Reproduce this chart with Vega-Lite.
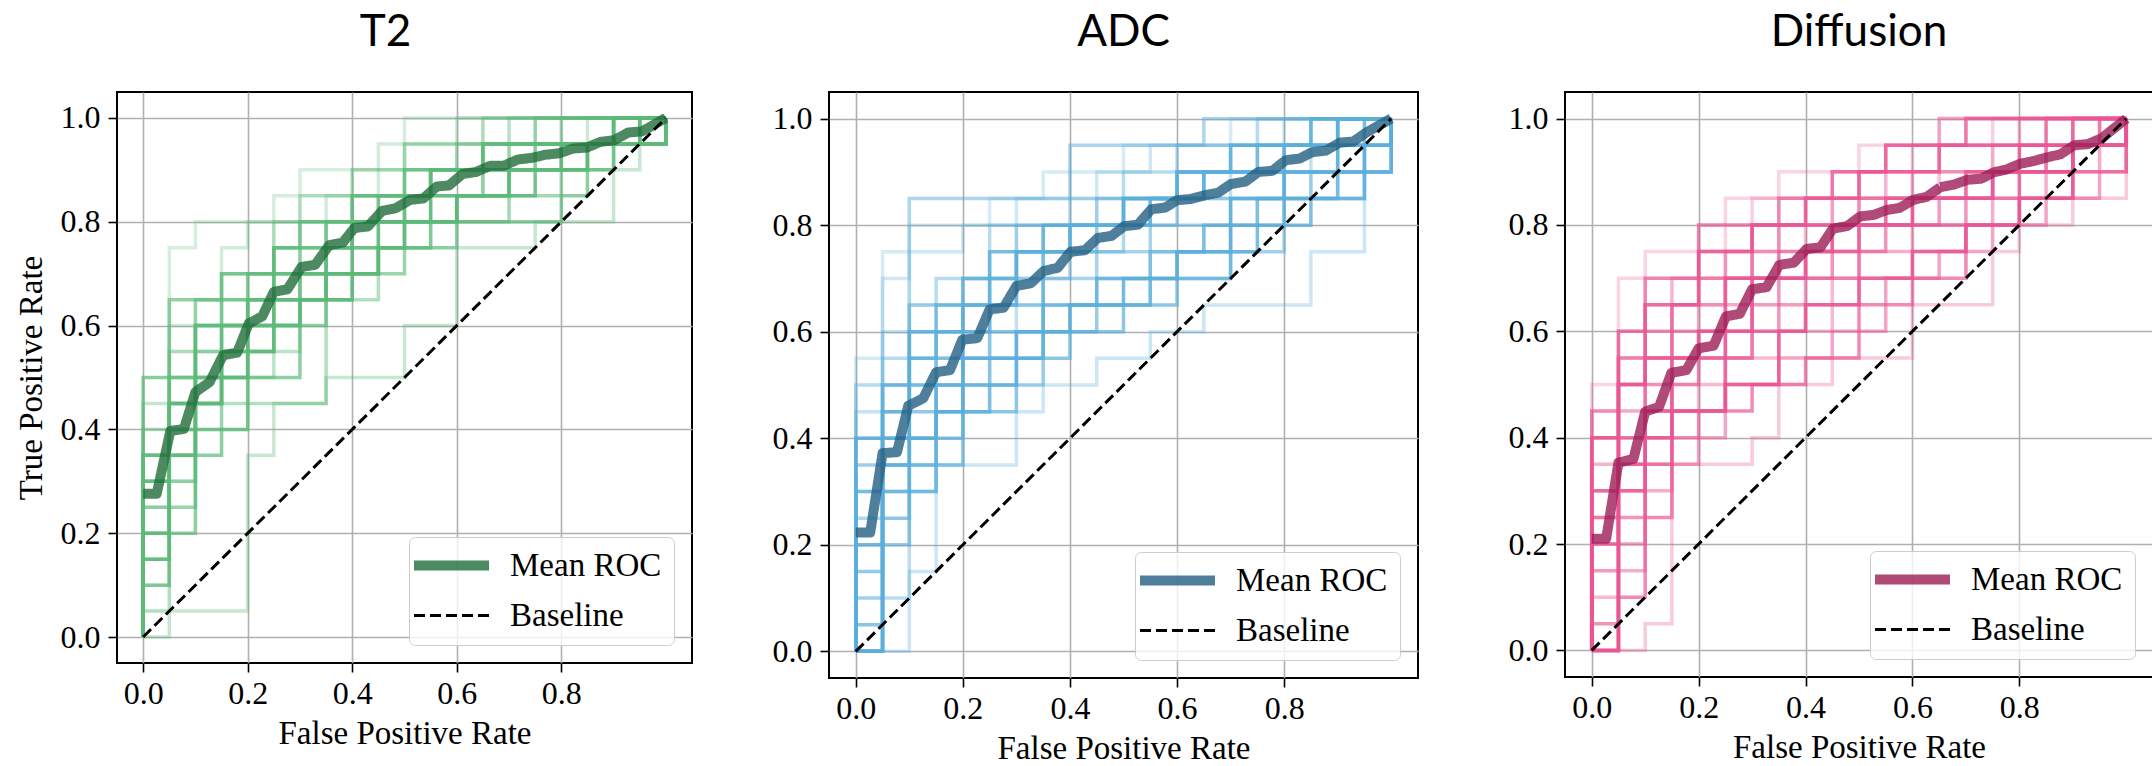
{
  "$schema": "https://vega.github.io/schema/vega-lite/v6.json",
  "background": "white",
  "padding": {"left": 14, "top": 10, "right": 0, "bottom": 0},
  "spacing": 75,
  "datasets": {
    "curves": [
      {"p": "T2", "c": 1, "x": [0,0,0.05,0.1,0.25,0.3,0.5,1], "y": [0,0.35,0.75,0.8,0.85,0.9,1,1]},
      {"p": "T2", "c": 2, "x": [0,0,0.05,0.1,0.15,0.2,0.35,0.45,0.6,1], "y": [0,0.25,0.6,0.65,0.75,0.8,0.85,0.95,1,1]},
      {"p": "T2", "c": 3, "x": [0,0,0.05,0.1,0.15,0.25,0.4,0.55,0.7,0.85,1], "y": [0,0.1,0.5,0.55,0.65,0.75,0.85,0.9,0.95,1,1]},
      {"p": "T2", "c": 4, "x": [0,0.05,0.2,0.25,0.35,0.5,0.6,0.75,0.9,0.95,1], "y": [0,0.05,0.35,0.45,0.5,0.6,0.75,0.8,0.9,1,1]},
      {"p": "T2", "c": 5, "x": [0,0,0.05,0.1,0.2,0.3,0.45,0.55,0.75,0.95,1], "y": [0,0.45,0.5,0.6,0.7,0.8,0.85,0.9,0.95,1,1]},
      {"p": "T2", "c": 6, "x": [0,0,0.1,0.15,0.25,0.3,0.35,0.45,0.6,0.65,0.8,1], "y": [0,0.3,0.45,0.5,0.55,0.65,0.7,0.8,0.85,0.9,0.95,1]},
      {"p": "T2", "c": 7, "x": [0,0,0.05,0.1,0.2,0.25,0.3,0.4,0.5,0.55,0.7,1], "y": [0,0.2,0.35,0.4,0.55,0.6,0.7,0.75,0.85,0.9,1,1]},
      {"p": "T2", "c": 8, "x": [0,0,0.05,0.1,0.35,0.45,0.55,0.65,0.8,0.9,1], "y": [0,0.05,0.3,0.45,0.65,0.75,0.85,0.9,0.95,1,1]},
      {"p": "T2", "c": 9, "x": [0,0,0.05,0.1,0.15,0.25,0.3,0.4,0.5,0.65,1], "y": [0,0.4,0.55,0.65,0.7,0.8,0.85,0.9,0.95,1,1]},
      {"p": "T2", "c": 10, "x": [0,0,0.05,0.1,0.15,0.2,0.3,0.35,0.5,0.6,0.8,1], "y": [0,0.2,0.4,0.5,0.6,0.65,0.75,0.8,0.9,0.95,1,1]},
      {"p": "T2", "c": 11, "x": [0,0,0.05,0.1,0.2,0.3,0.45,0.55,0.7,0.8,0.9,1], "y": [0,0.3,0.45,0.55,0.6,0.7,0.75,0.8,0.85,0.9,0.95,1]},
      {"p": "T2", "c": 12, "x": [0,0,0.05,0.1,0.15,0.2,0.35,0.4,0.55,0.75,0.9,1], "y": [0,0.25,0.35,0.5,0.55,0.7,0.75,0.85,0.9,0.95,1,1]},
      {"p": "T2", "c": 13, "x": [0,0,0.05,0.1,0.15,0.25,0.3,0.4,0.5,0.6,0.7,0.85,0.95,1], "y": [0,0.15,0.25,0.4,0.55,0.6,0.65,0.7,0.8,0.85,0.9,0.95,1,1]},
      {"p": "T2", "c": 14, "x": [0,0,0.05,0.15,0.25,0.35,0.5,0.55,0.65,0.75,1], "y": [0,0.35,0.65,0.7,0.75,0.8,0.85,0.9,0.95,1,1]},
      {"p": "T2", "c": 15, "x": [0,0,0.05,0.1,0.15,0.2,0.3,0.35,0.45,0.6,0.8,0.85,0.9,1], "y": [0,0.1,0.2,0.35,0.4,0.5,0.6,0.7,0.75,0.8,0.85,0.9,0.95,1]},
      {"p": "T2", "c": 16, "x": [0,0,0.1,0.15,0.25,0.35,0.4,0.5,0.65,0.9,1], "y": [0,0.5,0.6,0.65,0.7,0.75,0.85,0.9,0.95,1,1]},
      {"p": "T2", "c": 17, "x": [0,0,0.05,0.1,0.2,0.25,0.3,0.45,0.55,0.65,0.95,1], "y": [0,0.3,0.4,0.6,0.65,0.75,0.8,0.85,0.9,0.95,1,1]},
      {"p": "T2", "c": 18, "x": [0,0,0.05,0.1,0.15,0.25,0.35,0.4,0.6,0.7,0.85,1], "y": [0,0.2,0.45,0.5,0.6,0.65,0.75,0.8,0.85,0.9,0.95,1]},
      {"p": "T2", "c": 19, "x": [0,0,0.05,0.15,0.2,0.3,0.4,0.5,0.6,0.7,0.8,0.9,1], "y": [0,0.35,0.45,0.5,0.6,0.65,0.75,0.8,0.85,0.9,0.95,1,1]},
      {"p": "T2", "c": 20, "x": [0,0,0.05,0.1,0.15,0.2,0.25,0.35,0.45,0.55,0.75,0.85,1], "y": [0,0.15,0.35,0.45,0.5,0.55,0.65,0.7,0.8,0.85,0.9,0.95,1]},
      {"p": "ADC", "c": 1, "x": [0,0,0.05,0.1,0.25,0.35,0.5,0.7,1], "y": [0,0.55,0.75,0.8,0.85,0.9,0.95,1,1]},
      {"p": "ADC", "c": 2, "x": [0,0,0.05,0.1,0.2,0.3,0.45,0.55,0.8,1], "y": [0,0.3,0.7,0.75,0.8,0.85,0.9,0.95,1,1]},
      {"p": "ADC", "c": 3, "x": [0,0.1,0.15,0.3,0.35,0.45,0.55,0.65,0.85,0.95,1], "y": [0,0.15,0.35,0.45,0.5,0.55,0.6,0.65,0.75,0.9,1]},
      {"p": "ADC", "c": 4, "x": [0,0,0.05,0.1,0.2,0.35,0.55,0.65,0.75,0.95,1], "y": [0,0.45,0.6,0.65,0.7,0.8,0.85,0.9,0.95,1,1]},
      {"p": "ADC", "c": 5, "x": [0,0,0.05,0.1,0.15,0.25,0.3,0.4,0.55,0.7,0.85,1], "y": [0,0.2,0.35,0.5,0.55,0.6,0.75,0.8,0.85,0.9,0.95,1]},
      {"p": "ADC", "c": 6, "x": [0,0.05,0.1,0.2,0.25,0.35,0.45,0.55,0.65,0.75,0.9,1], "y": [0,0.1,0.4,0.45,0.55,0.65,0.7,0.75,0.8,0.85,0.9,1]},
      {"p": "ADC", "c": 7, "x": [0,0,0.05,0.1,0.15,0.25,0.4,0.5,0.6,0.75,1], "y": [0,0.5,0.55,0.65,0.7,0.8,0.85,0.9,0.95,1,1]},
      {"p": "ADC", "c": 8, "x": [0,0,0.05,0.1,0.2,0.3,0.4,0.5,0.6,0.8,0.9,1], "y": [0,0.25,0.45,0.6,0.65,0.7,0.75,0.8,0.85,0.9,0.95,1]},
      {"p": "ADC", "c": 9, "x": [0,0,0.1,0.4,0.65,1], "y": [0,0.4,0.85,0.95,1,1]},
      {"p": "ADC", "c": 10, "x": [0,0.05,0.15,0.2,0.25,0.35,0.45,0.55,0.7,0.8,0.95,1], "y": [0,0.3,0.4,0.5,0.6,0.7,0.75,0.8,0.85,0.9,0.95,1]},
      {"p": "ADC", "c": 11, "x": [0,0,0.05,0.15,0.2,0.3,0.4,0.55,0.7,0.8,0.95,1], "y": [0,0.1,0.35,0.45,0.55,0.6,0.65,0.7,0.75,0.85,0.9,1]},
      {"p": "ADC", "c": 12, "x": [0,0,0.05,0.1,0.15,0.25,0.3,0.45,0.6,0.7,0.85,1], "y": [0,0.35,0.5,0.55,0.6,0.7,0.8,0.85,0.9,0.95,1,1]},
      {"p": "ADC", "c": 13, "x": [0,0.05,0.1,0.15,0.25,0.35,0.45,0.55,0.65,0.75,0.85,0.95,1], "y": [0,0.2,0.3,0.45,0.5,0.6,0.65,0.75,0.8,0.85,0.9,0.95,1]},
      {"p": "ADC", "c": 14, "x": [0,0,0.05,0.1,0.15,0.2,0.3,0.45,0.5,0.65,0.8,0.9,1], "y": [0,0.15,0.4,0.45,0.55,0.65,0.75,0.8,0.85,0.9,0.95,1,1]},
      {"p": "ADC", "c": 15, "x": [0,0.05,0.1,0.2,0.3,0.4,0.5,0.6,0.7,0.8,0.9,0.95,1], "y": [0,0.25,0.35,0.45,0.55,0.6,0.65,0.7,0.8,0.85,0.9,1,1]},
      {"p": "ADC", "c": 16, "x": [0,0,0.05,0.1,0.2,0.25,0.35,0.4,0.5,0.6,0.75,0.9,1], "y": [0,0.05,0.3,0.5,0.6,0.65,0.75,0.8,0.85,0.9,0.95,1,1]},
      {"p": "ADC", "c": 17, "x": [0,0,0.05,0.1,0.2,0.3,0.4,0.55,0.65,0.8,0.9,1], "y": [0,0.3,0.5,0.6,0.7,0.75,0.8,0.85,0.9,0.95,1,1]},
      {"p": "ADC", "c": 18, "x": [0,0,0.05,0.15,0.2,0.3,0.35,0.45,0.6,0.75,0.85,0.95,1], "y": [0,0.2,0.4,0.45,0.5,0.55,0.65,0.7,0.75,0.8,0.85,0.9,1]},
      {"p": "ADC", "c": 19, "x": [0,0,0.05,0.1,0.15,0.25,0.35,0.5,0.6,0.7,0.85,1], "y": [0,0.4,0.45,0.55,0.65,0.75,0.8,0.85,0.9,0.95,1,1]},
      {"p": "ADC", "c": 20, "x": [0,0.05,0.1,0.15,0.2,0.3,0.4,0.5,0.6,0.7,0.8,0.9,1], "y": [0,0.35,0.4,0.5,0.55,0.6,0.65,0.7,0.75,0.85,0.9,0.95,1]},
      {"p": "Diffusion", "c": 1, "x": [0,0,0.05,0.1,0.25,0.35,0.5,0.7,1], "y": [0,0.5,0.7,0.75,0.85,0.9,0.95,1,1]},
      {"p": "Diffusion", "c": 2, "x": [0,0,0.05,0.1,0.2,0.3,0.45,0.6,0.75,1], "y": [0,0.45,0.6,0.65,0.75,0.85,0.9,0.95,1,1]},
      {"p": "Diffusion", "c": 3, "x": [0,0.1,0.15,0.3,0.35,0.45,0.6,0.75,0.8,0.9,1], "y": [0,0.05,0.35,0.4,0.5,0.55,0.65,0.75,0.8,0.85,1]},
      {"p": "Diffusion", "c": 4, "x": [0,0,0.05,0.1,0.15,0.25,0.35,0.5,0.65,0.8,0.95,1], "y": [0,0.25,0.5,0.6,0.65,0.75,0.8,0.85,0.9,0.95,1,1]},
      {"p": "Diffusion", "c": 5, "x": [0,0,0.05,0.1,0.15,0.2,0.3,0.4,0.55,0.7,0.85,1], "y": [0,0.2,0.3,0.45,0.5,0.6,0.7,0.8,0.85,0.9,0.95,1]},
      {"p": "Diffusion", "c": 6, "x": [0,0,0.05,0.1,0.2,0.25,0.35,0.45,0.6,0.7,0.8,0.9,1], "y": [0,0.1,0.4,0.45,0.5,0.55,0.6,0.7,0.75,0.8,0.9,0.95,1]},
      {"p": "Diffusion", "c": 7, "x": [0,0,0.05,0.1,0.15,0.25,0.3,0.4,0.55,0.65,0.8,1], "y": [0,0.35,0.55,0.6,0.7,0.75,0.8,0.85,0.9,0.95,1,1]},
      {"p": "Diffusion", "c": 8, "x": [0,0.05,0.1,0.15,0.25,0.3,0.4,0.5,0.6,0.75,0.85,0.95,1], "y": [0,0.15,0.3,0.45,0.55,0.6,0.65,0.75,0.8,0.85,0.9,0.95,1]},
      {"p": "Diffusion", "c": 9, "x": [0,0,0.05,0.1,0.2,0.3,0.35,0.5,0.6,0.75,0.9,1], "y": [0,0.3,0.45,0.55,0.65,0.75,0.8,0.85,0.9,0.95,1,1]},
      {"p": "Diffusion", "c": 10, "x": [0,0.05,0.1,0.2,0.25,0.35,0.45,0.55,0.65,0.75,0.85,0.95,1], "y": [0,0.2,0.35,0.4,0.5,0.55,0.6,0.7,0.75,0.8,0.85,0.9,1]},
      {"p": "Diffusion", "c": 11, "x": [0,0,0.05,0.15,0.2,0.3,0.45,0.5,0.55,0.65,1], "y": [0,0.45,0.55,0.65,0.7,0.8,0.85,0.9,0.95,1,1]},
      {"p": "Diffusion", "c": 12, "x": [0,0,0.05,0.1,0.15,0.2,0.3,0.4,0.5,0.65,0.75,0.9,1], "y": [0,0.15,0.35,0.4,0.5,0.55,0.65,0.7,0.8,0.85,0.9,0.95,1]},
      {"p": "Diffusion", "c": 13, "x": [0,0,0.05,0.1,0.15,0.25,0.35,0.45,0.55,0.7,0.8,0.9,1], "y": [0,0.05,0.25,0.35,0.45,0.6,0.7,0.75,0.8,0.85,0.9,0.95,1]},
      {"p": "Diffusion", "c": 14, "x": [0,0,0.05,0.1,0.15,0.25,0.4,0.45,0.6,0.75,0.85,0.95,1], "y": [0,0.25,0.4,0.5,0.6,0.7,0.75,0.8,0.85,0.9,0.95,1,1]},
      {"p": "Diffusion", "c": 15, "x": [0,0.05,0.1,0.15,0.2,0.3,0.4,0.5,0.6,0.7,0.8,0.9,1], "y": [0,0.1,0.25,0.4,0.45,0.5,0.55,0.65,0.7,0.8,0.85,0.9,1]},
      {"p": "Diffusion", "c": 16, "x": [0,0,0.05,0.1,0.2,0.35,0.45,0.55,0.7,1], "y": [0,0.4,0.6,0.7,0.8,0.85,0.9,0.95,1,1]},
      {"p": "Diffusion", "c": 17, "x": [0,0,0.05,0.1,0.2,0.25,0.35,0.45,0.55,0.7,0.8,0.9,1], "y": [0,0.3,0.5,0.55,0.6,0.7,0.75,0.8,0.85,0.9,0.95,1,1]},
      {"p": "Diffusion", "c": 18, "x": [0,0,0.05,0.1,0.15,0.25,0.3,0.4,0.5,0.6,0.75,0.9,1], "y": [0,0.2,0.35,0.45,0.55,0.6,0.7,0.75,0.8,0.85,0.9,0.95,1]},
      {"p": "Diffusion", "c": 19, "x": [0,0,0.05,0.1,0.2,0.3,0.4,0.5,0.65,0.85,1], "y": [0,0.4,0.5,0.65,0.75,0.8,0.85,0.9,0.95,1,1]},
      {"p": "Diffusion", "c": 20, "x": [0,0.05,0.1,0.15,0.25,0.35,0.4,0.5,0.6,0.7,0.8,0.9,1], "y": [0,0.3,0.4,0.45,0.5,0.6,0.65,0.7,0.75,0.8,0.85,0.95,1]}
    ],
    "means": [
      {"p": "T2", "s": "Mean ROC", "x": [0,0.026,0.052,0.078,0.1,0.127,0.153,0.18,0.202,0.228,0.25,0.276,0.303,0.329,0.356,0.382,0.404,0.43,0.457,0.483,0.51,0.536,0.562,0.585,0.611,0.637,0.664,0.69,0.717,0.743,0.769,0.796,0.822,0.849,0.875,0.901,0.928,0.954,1.0], "y": [0.276,0.276,0.397,0.401,0.472,0.491,0.543,0.548,0.604,0.618,0.665,0.67,0.713,0.717,0.755,0.76,0.788,0.791,0.821,0.826,0.842,0.845,0.868,0.87,0.892,0.896,0.908,0.908,0.92,0.923,0.929,0.932,0.941,0.943,0.954,0.957,0.972,0.974,1.0]},
      {"p": "T2", "s": "Baseline", "x": [0,1], "y": [0,1]},
      {"p": "ADC", "s": "Mean ROC", "x": [0,0.027,0.05,0.077,0.098,0.126,0.15,0.176,0.199,0.227,0.25,0.276,0.3,0.327,0.351,0.377,0.401,0.428,0.452,0.478,0.501,0.527,0.552,0.578,0.6,0.625,0.651,0.677,0.7,0.728,0.752,0.778,0.803,0.829,0.852,0.878,0.904,0.929,0.955,1.0], "y": [0.223,0.223,0.372,0.374,0.461,0.475,0.524,0.528,0.585,0.588,0.642,0.645,0.686,0.691,0.714,0.72,0.75,0.753,0.776,0.78,0.798,0.801,0.83,0.833,0.847,0.849,0.856,0.861,0.877,0.882,0.9,0.902,0.922,0.925,0.937,0.94,0.955,0.957,0.975,1.0]},
      {"p": "ADC", "s": "Baseline", "x": [0,1], "y": [0,1]},
      {"p": "Diffusion", "s": "Mean ROC", "x": [0,0.027,0.05,0.078,0.1,0.126,0.149,0.177,0.2,0.228,0.251,0.277,0.3,0.327,0.351,0.378,0.402,0.428,0.451,0.478,0.502,0.528,0.551,0.576,0.601,0.627,0.652,0.678,0.703,0.729,0.752,0.775,0.801,0.826,0.852,0.877,0.903,0.928,0.954,1.0], "y": [0.21,0.21,0.353,0.36,0.449,0.458,0.522,0.527,0.568,0.573,0.628,0.633,0.679,0.683,0.725,0.729,0.755,0.758,0.793,0.798,0.816,0.819,0.828,0.832,0.847,0.853,0.871,0.876,0.885,0.887,0.899,0.904,0.915,0.92,0.927,0.933,0.95,0.952,0.963,1.0]},
      {"p": "Diffusion", "s": "Baseline", "x": [0,1], "y": [0,1]}
    ]
  },
  "hconcat": [
    {
      "width": 575, "height": 571,
      "title": {"text": "T2", "dx": -19},
      "layer": [
        {
          "data": {"name": "curves"},
          "transform": [{"filter": "datum.p === 'T2'"}, {"flatten": ["x", "y"]}],
          "mark": {"type": "line", "interpolate": "step-after", "strokeWidth": 3.5, "color": "#5cba78"},
          "encoding": {
            "x": {"field": "x", "type": "quantitative", "scale": {"domain": [-0.05, 1.05], "nice": false, "zero": false}, "axis": {"values": [0, 0.2, 0.4, 0.6, 0.8], "format": ".1f", "title": "False Positive Rate"}},
            "y": {"field": "y", "type": "quantitative", "scale": {"domain": [-0.05, 1.05], "nice": false, "zero": false}, "axis": {"values": [0, 0.2, 0.4, 0.6, 0.8, 1], "format": ".1f", "title": "True Positive Rate", "minExtent": 60, "titlePadding": 9}},
            "detail": {"field": "c", "type": "nominal"},
            "strokeOpacity": {"field": "c", "type": "quantitative", "scale": {"domain": [1, 20], "range": [0.25, 0.85]}, "legend": null},
            "order": {"value": null}
          }
        },
        {
          "data": {"name": "means"},
          "transform": [{"filter": "datum.p === 'T2'"}, {"flatten": ["x", "y"]}],
          "mark": {"type": "line", "strokeCap": "butt", "strokeJoin": "round"},
          "encoding": {
            "x": {"field": "x", "type": "quantitative", "scale": {"domain": [-0.05, 1.05], "nice": false, "zero": false}},
            "y": {"field": "y", "type": "quantitative", "scale": {"domain": [-0.05, 1.05], "nice": false, "zero": false}},
            "color": {"field": "s", "type": "nominal", "scale": {"domain": ["Mean ROC", "Baseline"], "range": ["#206d3b", "black"]}, "legend": {"title": null, "offset": 18, "encode": {"symbols": {"update": {"strokeWidth": {"signal": "datum.label === 'Mean ROC' ? 10 : 3"}, "opacity": {"signal": "datum.label === 'Mean ROC' ? 0.8 : 1"}}}}}},
            "strokeDash": {"field": "s", "type": "nominal", "scale": {"domain": ["Mean ROC", "Baseline"], "range": [[1, 0], [11, 5]]}, "legend": {"title": null, "offset": 18, "encode": {"symbols": {"update": {"strokeWidth": {"signal": "datum.label === 'Mean ROC' ? 10 : 3"}, "opacity": {"signal": "datum.label === 'Mean ROC' ? 0.8 : 1"}}}}}},
            "strokeWidth": {"field": "s", "type": "ordinal", "scale": {"domain": ["Mean ROC", "Baseline"], "range": [10, 3]}, "legend": null},
            "opacity": {"field": "s", "type": "ordinal", "scale": {"domain": ["Mean ROC", "Baseline"], "range": [0.8, 1]}, "legend": null},
            "order": {"value": null}
          }
        }
      ]
    },
    {
      "width": 589, "height": 586,
      "title": {"text": "ADC"},
      "layer": [
        {
          "data": {"name": "curves"},
          "transform": [{"filter": "datum.p === 'ADC'"}, {"flatten": ["x", "y"]}],
          "mark": {"type": "line", "interpolate": "step-after", "strokeWidth": 3.5, "color": "#5aaedb"},
          "encoding": {
            "x": {"field": "x", "type": "quantitative", "scale": {"domain": [-0.05, 1.05], "nice": false, "zero": false}, "axis": {"values": [0, 0.2, 0.4, 0.6, 0.8], "format": ".1f", "title": "False Positive Rate"}},
            "y": {"field": "y", "type": "quantitative", "scale": {"domain": [-0.05, 1.05], "nice": false, "zero": false}, "axis": {"values": [0, 0.2, 0.4, 0.6, 0.8, 1], "format": ".1f", "title": null, "minExtent": 60}},
            "detail": {"field": "c", "type": "nominal"},
            "strokeOpacity": {"field": "c", "type": "quantitative", "scale": {"domain": [1, 20], "range": [0.25, 0.85]}, "legend": null},
            "order": {"value": null}
          }
        },
        {
          "data": {"name": "means"},
          "transform": [{"filter": "datum.p === 'ADC'"}, {"flatten": ["x", "y"]}],
          "mark": {"type": "line", "strokeCap": "butt", "strokeJoin": "round"},
          "encoding": {
            "x": {"field": "x", "type": "quantitative", "scale": {"domain": [-0.05, 1.05], "nice": false, "zero": false}},
            "y": {"field": "y", "type": "quantitative", "scale": {"domain": [-0.05, 1.05], "nice": false, "zero": false}},
            "color": {"field": "s", "type": "nominal", "scale": {"domain": ["Mean ROC", "Baseline"], "range": ["#245f82", "black"]}, "legend": {"title": null, "offset": 18, "encode": {"symbols": {"update": {"strokeWidth": {"signal": "datum.label === 'Mean ROC' ? 10 : 3"}, "opacity": {"signal": "datum.label === 'Mean ROC' ? 0.8 : 1"}}}}}},
            "strokeDash": {"field": "s", "type": "nominal", "scale": {"domain": ["Mean ROC", "Baseline"], "range": [[1, 0], [11, 5]]}, "legend": {"title": null, "offset": 18, "encode": {"symbols": {"update": {"strokeWidth": {"signal": "datum.label === 'Mean ROC' ? 10 : 3"}, "opacity": {"signal": "datum.label === 'Mean ROC' ? 0.8 : 1"}}}}}},
            "strokeWidth": {"field": "s", "type": "ordinal", "scale": {"domain": ["Mean ROC", "Baseline"], "range": [10, 3]}, "legend": null},
            "opacity": {"field": "s", "type": "ordinal", "scale": {"domain": ["Mean ROC", "Baseline"], "range": [0.8, 1]}, "legend": null},
            "order": {"value": null}
          }
        }
      ]
    },
    {
      "width": 588, "height": 585,
      "title": {"text": "Diffusion"},
      "layer": [
        {
          "data": {"name": "curves"},
          "transform": [{"filter": "datum.p === 'Diffusion'"}, {"flatten": ["x", "y"]}],
          "mark": {"type": "line", "interpolate": "step-after", "strokeWidth": 3.5, "color": "#ea5594"},
          "encoding": {
            "x": {"field": "x", "type": "quantitative", "scale": {"domain": [-0.05, 1.05], "nice": false, "zero": false}, "axis": {"values": [0, 0.2, 0.4, 0.6, 0.8], "format": ".1f", "title": "False Positive Rate"}},
            "y": {"field": "y", "type": "quantitative", "scale": {"domain": [-0.05, 1.05], "nice": false, "zero": false}, "axis": {"values": [0, 0.2, 0.4, 0.6, 0.8, 1], "format": ".1f", "title": null, "minExtent": 70}},
            "detail": {"field": "c", "type": "nominal"},
            "strokeOpacity": {"field": "c", "type": "quantitative", "scale": {"domain": [1, 20], "range": [0.25, 0.85]}, "legend": null},
            "order": {"value": null}
          }
        },
        {
          "data": {"name": "means"},
          "transform": [{"filter": "datum.p === 'Diffusion'"}, {"flatten": ["x", "y"]}],
          "mark": {"type": "line", "strokeCap": "butt", "strokeJoin": "round"},
          "encoding": {
            "x": {"field": "x", "type": "quantitative", "scale": {"domain": [-0.05, 1.05], "nice": false, "zero": false}},
            "y": {"field": "y", "type": "quantitative", "scale": {"domain": [-0.05, 1.05], "nice": false, "zero": false}},
            "color": {"field": "s", "type": "nominal", "scale": {"domain": ["Mean ROC", "Baseline"], "range": ["#9c1d56", "black"]}, "legend": {"title": null, "offset": 18, "encode": {"symbols": {"update": {"strokeWidth": {"signal": "datum.label === 'Mean ROC' ? 10 : 3"}, "opacity": {"signal": "datum.label === 'Mean ROC' ? 0.8 : 1"}}}}}},
            "strokeDash": {"field": "s", "type": "nominal", "scale": {"domain": ["Mean ROC", "Baseline"], "range": [[1, 0], [11, 5]]}, "legend": {"title": null, "offset": 18, "encode": {"symbols": {"update": {"strokeWidth": {"signal": "datum.label === 'Mean ROC' ? 10 : 3"}, "opacity": {"signal": "datum.label === 'Mean ROC' ? 0.8 : 1"}}}}}},
            "strokeWidth": {"field": "s", "type": "ordinal", "scale": {"domain": ["Mean ROC", "Baseline"], "range": [10, 3]}, "legend": null},
            "opacity": {"field": "s", "type": "ordinal", "scale": {"domain": ["Mean ROC", "Baseline"], "range": [0.8, 1]}, "legend": null},
            "order": {"value": null}
          }
        }
      ]
    }
  ],
  "resolve": {
    "scale": {"x": "independent", "y": "independent", "color": "independent", "strokeDash": "independent", "strokeWidth": "independent", "opacity": "independent", "strokeOpacity": "independent"},
    "legend": {"color": "independent", "strokeDash": "independent"},
    "axis": {"x": "independent", "y": "independent"}
  },
  "config": {
    "view": {"stroke": "black", "strokeWidth": 2},
    "axis": {"grid": true, "gridColor": "#b0b0b0", "gridWidth": 1.6, "domain": false, "ticks": true, "tickColor": "black", "tickSize": 9, "tickWidth": 1.6, "labelFont": "Liberation Serif", "labelFontSize": 32, "labelColor": "black", "labelFlush": false, "labelOverlap": false, "titleFont": "Liberation Serif", "titleFontSize": 33, "titleFontWeight": "normal", "titleColor": "black"},
    "axisX": {"labelPadding": 6, "titlePadding": 8},
    "axisY": {"labelPadding": 8},
    "title": {"font": "Lato", "fontSize": 44, "fontWeight": "normal", "color": "black", "baseline": "alphabetic", "offset": 37, "anchor": "middle", "frame": "group"},
    "legend": {"orient": "bottom-right", "offset": 18, "labelFont": "Liberation Serif", "labelFontSize": 33, "labelColor": "black", "fillColor": "rgba(255,255,255,0.8)", "strokeColor": "#cccccc", "cornerRadius": 6, "padding": 12, "rowPadding": 13, "symbolType": "M-5,0H5", "symbolSize": 225, "symbolStrokeWidth": 3, "symbolOffset": 14, "labelOffset": 42}
  }
}
